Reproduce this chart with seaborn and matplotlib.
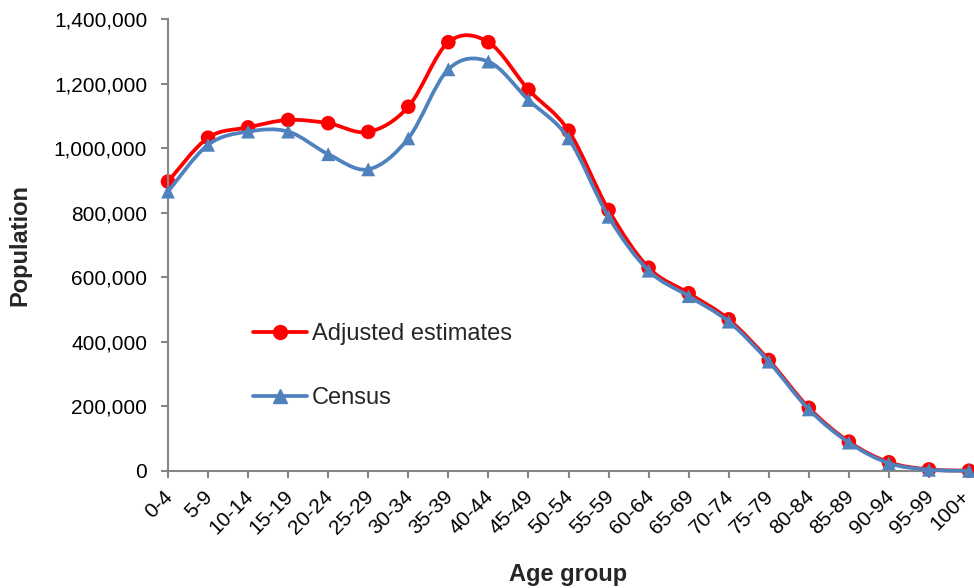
import numpy as np
import pandas as pd
import matplotlib
matplotlib.use("Agg")
import matplotlib.pyplot as plt
from matplotlib.path import Path
from matplotlib.patches import PathPatch
from matplotlib.lines import Line2D
from matplotlib.ticker import FuncFormatter
from matplotlib.transforms import ScaledTranslation
import seaborn as sns

age_groups = ["0-4", "5-9", "10-14", "15-19", "20-24", "25-29", "30-34", "35-39",
              "40-44", "45-49", "50-54", "55-59", "60-64", "65-69", "70-74", "75-79",
              "80-84", "85-89", "90-94", "95-99", "100+"]
adjusted = [897000, 1033000, 1065000, 1088000, 1078000, 1051000, 1129000, 1329000,
            1329000, 1182000, 1055000, 809000, 630000, 551000, 470000, 344000,
            196000, 91000, 27000, 5000, 1000]
census = [866000, 1011000, 1052000, 1052000, 982000, 935000, 1031000, 1245000,
          1269000, 1150000, 1031000, 788000, 621000, 542000, 463000, 339000,
          191000, 88000, 24000, 4000, 500]
series_names = ["Adjusted estimates", "Census"]

RED = "#FF0000"
BLUE = "#4F81BD"
GREY = "#868686"

sns.set_style("white")
plt.rcParams["font.family"] = ["Liberation Sans", "DejaVu Sans"]

pos = np.arange(len(age_groups))
df = pd.concat([
    pd.DataFrame({"pos": pos, "value": adjusted, "series": series_names[0]}),
    pd.DataFrame({"pos": pos, "value": census, "series": series_names[1]}),
])

fig = plt.figure(figsize=(9.74, 5.88), dpi=100)
ax = fig.add_axes([168 / 974, 1 - 471 / 588, (969 - 168) / 974, (471 - 19.3) / 588])


def smooth_path(xs, ys):
    pts = np.column_stack([xs, ys]).astype(float)
    n = len(pts)
    verts = [pts[0]]
    codes = [Path.MOVETO]
    for i in range(n - 1):
        p0 = pts[i - 1] if i > 0 else pts[i]
        p1 = pts[i]
        p2 = pts[i + 1]
        p3 = pts[i + 2] if i + 2 < n else pts[i + 1]
        c1 = p1 + (p2 - p0) / 6.0
        c2 = p2 - (p3 - p1) / 6.0
        verts += [c1, c2, p2]
        codes += [Path.CURVE4] * 3
    return Path(verts, codes)


colors = {series_names[0]: RED, series_names[1]: BLUE}

for name, vals, z in [(series_names[0], adjusted, 2), (series_names[1], census, 3)]:
    ax.add_patch(PathPatch(smooth_path(pos, vals), facecolor="none",
                           edgecolor=colors[name], lw=2.7, clip_on=False, zorder=z))

sns.scatterplot(data=df[df.series == series_names[0]], x="pos", y="value", color=RED,
                marker="o", s=110, edgecolor="none", ax=ax, clip_on=False, zorder=2.5,
                legend=False)
sns.scatterplot(data=df[df.series == series_names[1]], x="pos", y="value", color=BLUE,
                marker="^", s=100, edgecolor="none", ax=ax, clip_on=False, zorder=3.5,
                legend=False)

ax.set_xlim(0, len(age_groups) - 1)
ax.set_ylim(0, 1400000)
ax.set_yticks(np.arange(0, 1400001, 200000))
ax.yaxis.set_major_formatter(FuncFormatter(lambda v, p: f"{int(v):,}"))
ax.set_xticks(pos)

for side in ["top", "right"]:
    ax.spines[side].set_visible(False)
for side in ["left", "bottom"]:
    ax.spines[side].set_color(GREY)
    ax.spines[side].set_linewidth(1.5)

ax.tick_params(axis="both", which="major", direction="out", length=5, width=1.5,
               color=GREY, labelsize=15, labelcolor="black", left=True, bottom=True)
ax.tick_params(axis="x", pad=2)
ax.tick_params(axis="y", pad=10)

ax.set_xticklabels(age_groups, rotation=45, ha="right", va="center",
                   rotation_mode="anchor")
labels = ax.get_xticklabels()
for i, lbl in enumerate(labels):
    dx = 2 if i < len(labels) - 1 else -2
    offset = ScaledTranslation(dx / 100, -13 / 100, fig.dpi_scale_trans)
    lbl.set_transform(lbl.get_transform() + offset)

ax.set_xlabel("Age group", fontsize=17, fontweight="bold")
ax.set_ylabel("Population", fontsize=17, fontweight="bold")
ax.xaxis.set_label_coords(0.5, (471 - 563) / 451.7)
ax.yaxis.set_label_coords((31 - 168) / 801, 0.5)

handles = [
    Line2D([], [], color=RED, lw=2.7, marker="o", markersize=10, markeredgecolor=RED),
    Line2D([], [], color=BLUE, lw=2.7, marker="^", markersize=10, markeredgecolor=BLUE),
]
ax.legend(handles, series_names, loc="upper left",
          bbox_to_anchor=((253 - 168) / 801, (471 - 323) / 451.7),
          frameon=False, fontsize=17, handlelength=2.3, handletextpad=0.2,
          labelspacing=1.8, borderaxespad=0, borderpad=0)

fig.savefig("out.png", dpi=100)
